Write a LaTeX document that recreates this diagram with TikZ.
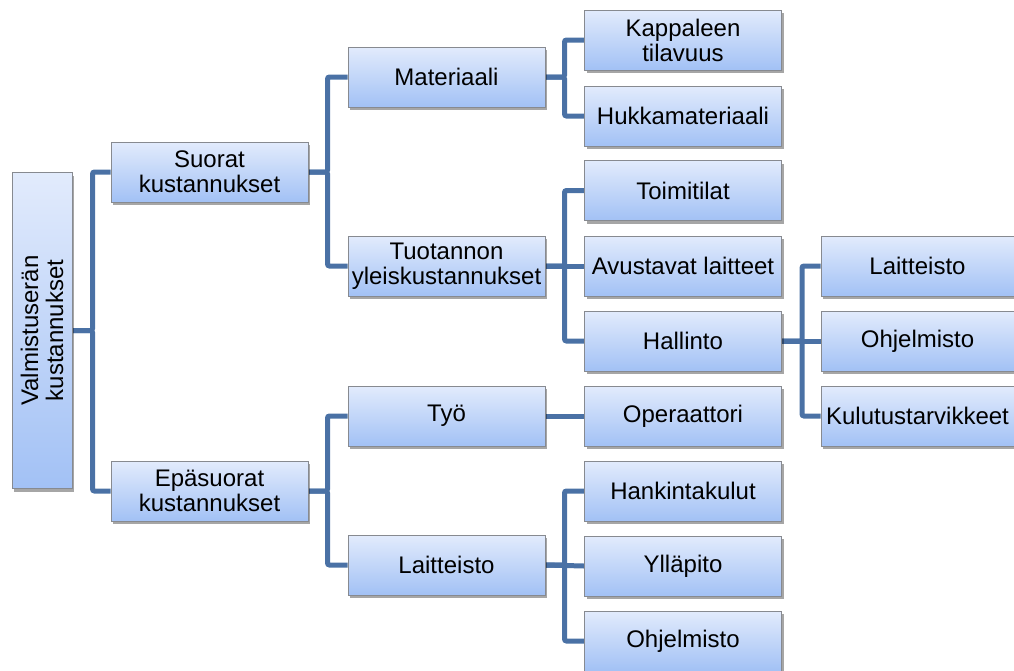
\documentclass[tikz,border=0pt]{standalone}
\usepackage{fontspec}
\setmainfont{Liberation Sans}
\usetikzlibrary{shadows,backgrounds}
\definecolor{boxtop}{HTML}{E2EBFC}
\definecolor{boxbot}{HTML}{A2C1F5}
\definecolor{boxline}{HTML}{878A90}
\definecolor{conn}{HTML}{4A71A5}
\tikzset{
  box/.style={draw=boxline, line width=1pt, top color=boxtop, bottom color=boxbot,
    minimum width=197pt, minimum height=60pt, inner sep=0pt, align=center,
    font=\fontsize{24}{25}\selectfont,
    drop shadow={shadow xshift=2pt, shadow yshift=-3pt, opacity=0.35, fill=black}},
  conline/.style={draw=conn, line width=5pt, rounded corners=2pt},
}
\begin{document}
\begin{tikzpicture}[x=1pt,y=-1pt]
\useasboundingbox (0,0) rectangle (1014,670);
\begin{scope}
\clip (0,0) rectangle (1014,670);
% root
\node[box, minimum width=60pt, minimum height=316pt] (root) at (42,330.5) {};
\node[rotate=90, align=center, font=\fontsize{24}{25}\selectfont] (roottext) at (root.center) {Valmistuserän\\kustannukset};
% level 1
\node[box] (suo) at (209.5,172) {Suorat\\kustannukset};
\node[box] (epa) at (209.5,491) {Epäsuorat\\kustannukset};
% level 2
\node[box] (mat) at (446.5,77) {Materiaali};
\node[box] (tuo) at (446.5,266) {Tuotannon\\yleiskustannukset};
\node[box] (tyo) at (446.5,416) {Työ};
\node[box] (lai) at (446.5,565) {Laitteisto};
% level 3
\node[box] (kap) at (683,40) {Kappaleen\\tilavuus};
\node[box] (huk) at (683,116) {Hukkamateriaali};
\node[box] (toi) at (683,190.5) {Toimitilat};
\node[box] (avu) at (683,266) {Avustavat laitteet};
\node[box] (hal) at (683,341) {Hallinto};
\node[box] (ope) at (683,416) {Operaattori};
\node[box] (han) at (683,491) {Hankintakulut};
\node[box] (yll) at (683,566) {Ylläpito};
\node[box] (ohj) at (683,641) {Ohjelmisto};
% level 4
\node[box, minimum width=193pt] (lait4) at (917.5,266) {Laitteisto};
\node[box, minimum width=193pt] (ohj4) at (917.5,341) {Ohjelmisto};
\node[box, minimum width=193pt] (kul4) at (917.5,416) {Kulutustarvikkeet};
% connectors
\begin{scope}[on background layer]
\draw[conline] (root.east) -- ++(20,0) |- (suo.west);
\draw[conline] (root.east) -- ++(20,0) |- (epa.west);
\draw[conline] (suo.east) -- ++(19,0) |- (mat.west);
\draw[conline] (suo.east) -- ++(19,0) |- (tuo.west);
\draw[conline] (epa.east) -- ++(19,0) |- (tyo.west);
\draw[conline] (epa.east) -- ++(19,0) |- (lai.west);
\draw[conline] (mat.east) -- ++(19,0) |- (kap.west);
\draw[conline] (mat.east) -- ++(19,0) |- (huk.west);
\draw[conline] (tuo.east) -- ++(19,0) |- (toi.west);
\draw[conline] (tuo.east) -- (avu.west);
\draw[conline] (tuo.east) -- ++(19,0) |- (hal.west);
\draw[conline] (tyo.east) -- (ope.west);
\draw[conline] (lai.east) -- ++(19,0) |- (han.west);
\draw[conline] (lai.east) -- (yll.west);
\draw[conline] (lai.east) -- ++(19,0) |- (ohj.west);
\draw[conline] (hal.east) -- ++(20,0) |- (lait4.west);
\draw[conline] (hal.east) -- (ohj4.west);
\draw[conline] (hal.east) -- ++(20,0) |- (kul4.west);
\end{scope}
\end{scope}
\end{tikzpicture}
\end{document}
